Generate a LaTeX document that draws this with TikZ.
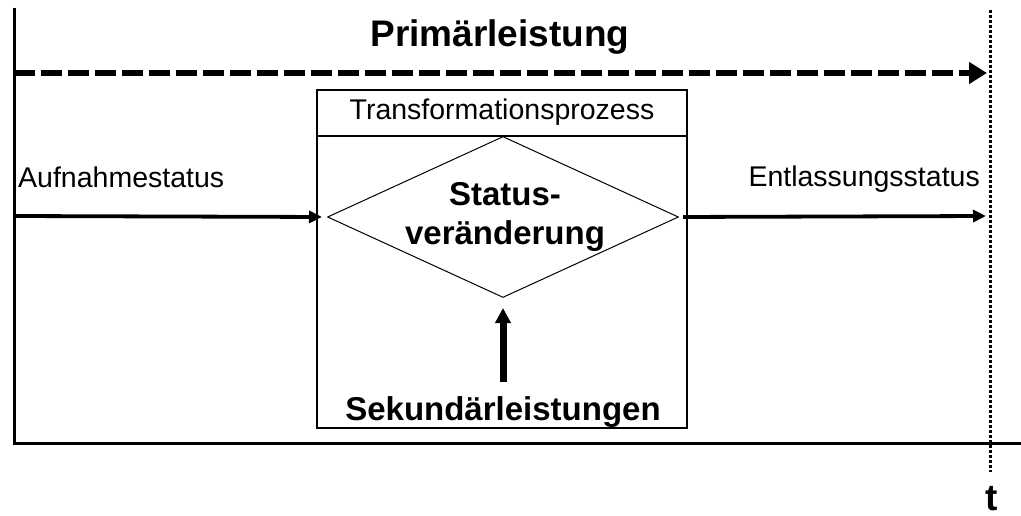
\documentclass[tikz,border=0pt]{standalone}
\usepackage{fontspec}
\setmainfont{Liberation Sans}
\usetikzlibrary{arrows.meta,shapes.geometric}
\begin{document}
\begin{tikzpicture}[x=1pt,y=-1pt,
  axisline/.style={line width=3pt},
  flowarrow/.style={line width=3.8pt,-{Triangle[length=13pt,width=12pt]}},
  primarrow/.style={line width=6pt,dash pattern=on 21pt off 6pt,-{Triangle[length=18pt,width=21pt]}},
  sekarrow/.style={line width=7pt,-{Triangle[length=15pt,width=15pt]}},
  timeline/.style={line width=3pt,dash pattern=on 2.6pt off 2.4pt},
  frame/.style={draw,line width=1.3pt,rectangle,inner sep=0pt},
  plain/.style={font=\fontsize{28.5}{34}\selectfont,inner sep=0pt},
  heavy/.style={font=\fontsize{33}{40}\bfseries\selectfont,inner sep=0pt},
]
\useasboundingbox (0,0) rectangle (1021,516);

% time axes
\coordinate (ytop) at (14,8);
\coordinate (origin) at (14,443);
\coordinate (xend) at (1021,443);
\draw[axisline] (ytop) -- (origin) -- (xend);

% dotted time marker
\coordinate (ttop) at (990,10);
\coordinate (tbot) at (990,472);
\draw[timeline] (ttop) -- (tbot);
\node[font=\fontsize{37}{44}\bfseries\selectfont,inner sep=0pt,anchor=base] (tlab) at (992,510) {t};

% primary service
\node[font=\fontsize{37}{44}\bfseries\selectfont,inner sep=0pt,anchor=base] (prim) at (500,47) {Primärleistung};
\coordinate (pstart) at (14,73);
\coordinate (pend) at (987,73);
\draw[primarrow] (pstart) -- (pend);

% transformation process box
\node[frame,minimum width=370pt,minimum height=338pt] (box) at (502,259) {};
\node[frame,minimum width=370pt,minimum height=46pt] (head) at (502,113) {};
\node[plain,anchor=base] (headtxt) at (502,120) {Transformationsprozess};

% status change
\node[draw,diamond,line width=1pt,minimum width=351pt,minimum height=161pt,inner sep=0pt] (dia) at (503,217) {};
\node[heavy,align=center] (diatxt) at (505,217) {Status-\\[-1pt]veränderung};

% admission and discharge
\coordinate (inL) at (14,216);
\coordinate (outR) at (986,216);
\draw[flowarrow,shorten >=5pt] (inL) -- (dia.west);
\draw[flowarrow,shorten <=4pt] (dia.east) -- (outR);
\node[plain,anchor=base west] (auf) at (18,188) {Aufnahmestatus};
\node[plain,anchor=base east] (ent) at (980,187) {Entlassungsstatus};

% secondary services
\node[heavy,anchor=base] (sek) at (503,420) {Sekundärleistungen};
\coordinate (sekfoot) at (503,382);
\draw[sekarrow,shorten >=10pt] (sekfoot) -- (dia.south);
\end{tikzpicture}
\end{document}
